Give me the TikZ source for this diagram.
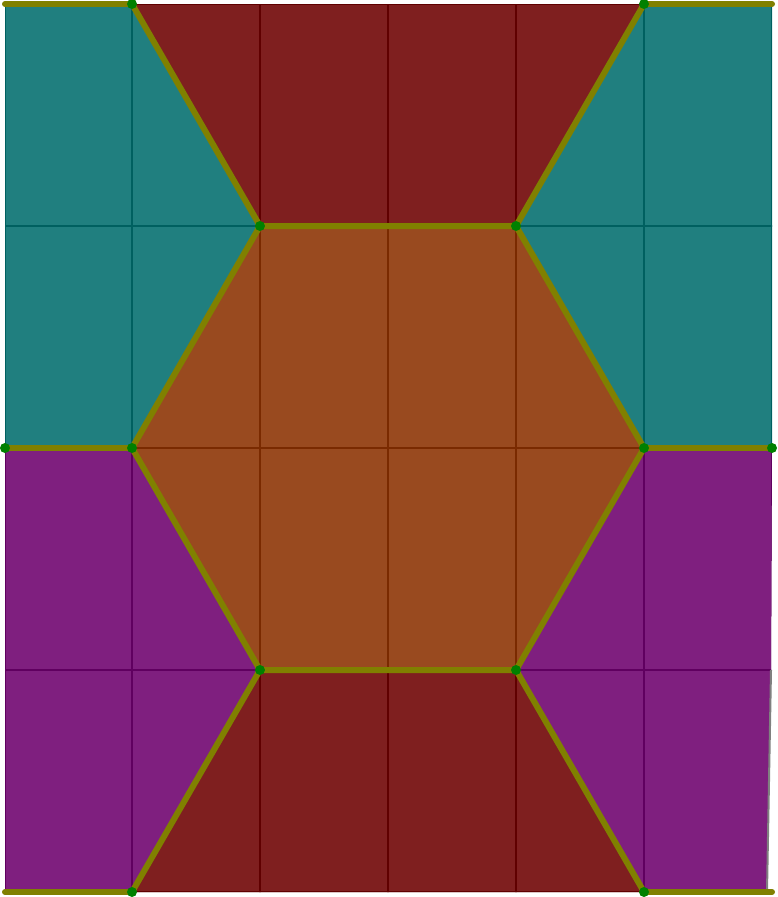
\documentclass[tikz,border=0pt]{standalone}
\begin{document}
\begin{tikzpicture}[x=1pt,y=-1pt,
  olive line/.style={draw={rgb,255:red,128;green,128;blue,0},line width=6pt,line cap=round},
  gridline/.style={line width=2pt},
  dot/.style={circle,fill={rgb,255:red,0;green,128;blue,0},inner sep=0pt,minimum size=10pt}]
\definecolor{tealc}{RGB}{32,127,127}
\definecolor{tealdark}{RGB}{0,96,96}
\definecolor{redc}{RGB}{127,31,31}
\definecolor{reddark}{RGB}{96,0,0}
\definecolor{orangec}{RGB}{153,74,31}
\definecolor{orangedark}{RGB}{122,42,0}
\definecolor{purplec}{RGB}{127,31,127}
\definecolor{purpledark}{RGB}{96,0,96}
\useasboundingbox (0,0) rectangle (777,897);
\fill[white] (0,0) rectangle (777,897);
% vertices
\coordinate (A) at (5,4);
\coordinate (B) at (132,4);
\coordinate (C) at (644,4);
\coordinate (D) at (772,4);
\coordinate (E) at (260,226);
\coordinate (F) at (516,226);
\coordinate (G) at (5,448);
\coordinate (H) at (132,448);
\coordinate (I) at (644,448);
\coordinate (J) at (772,448);
\coordinate (K) at (260,670);
\coordinate (L) at (516,670);
\coordinate (M) at (5,892);
\coordinate (N) at (132,892);
\coordinate (O) at (644,892);
\coordinate (P) at (767,892);
\coordinate (Q) at (771,670);
\newcommand{\meshgrid}[1]{%
  \foreach \xx in {5,132,260,388,516,644,772} \draw[gridline,#1] (\xx,0) -- (\xx,897);
  \foreach \yy in {4,226,448,670,892} \draw[gridline,#1] (0,\yy) -- (777,\yy);}
% teal top-left
\fill[tealc] (A) -- (B) -- (E) -- (H) -- (G) -- cycle;
\begin{scope}\clip (A) -- (B) -- (E) -- (H) -- (G) -- cycle; \meshgrid{tealdark}\end{scope}
% teal top-right
\fill[tealc] (C) -- (D) -- (J) -- (I) -- (F) -- cycle;
\begin{scope}\clip (C) -- (D) -- (J) -- (I) -- (F) -- cycle; \meshgrid{tealdark}\end{scope}
% red top
\fill[redc] (B) -- (C) -- (F) -- (E) -- cycle;
\begin{scope}\clip (B) -- (C) -- (F) -- (E) -- cycle; \meshgrid{reddark}\end{scope}
% orange hexagon
\fill[orangec] (E) -- (F) -- (I) -- (L) -- (K) -- (H) -- cycle;
\begin{scope}\clip (E) -- (F) -- (I) -- (L) -- (K) -- (H) -- cycle; \meshgrid{orangedark}\end{scope}
% red bottom
\fill[redc] (K) -- (L) -- (O) -- (N) -- cycle;
\begin{scope}\clip (K) -- (L) -- (O) -- (N) -- cycle; \meshgrid{reddark}\end{scope}
% purple bottom-left
\fill[purplec] (G) -- (H) -- (K) -- (N) -- (M) -- cycle;
\begin{scope}\clip (G) -- (H) -- (K) -- (N) -- (M) -- cycle; \meshgrid{purpledark}\end{scope}
% purple bottom-right
\fill[purplec] (I) -- (J) -- (Q) -- (P) -- (O) -- (L) -- cycle;
\begin{scope}\clip (I) -- (J) -- (Q) -- (P) -- (O) -- (L) -- cycle; \meshgrid{purpledark}\end{scope}
\draw[line width=2pt,gray] (Q) -- (P);
% olive boundaries
\draw[olive line] (A) -- (B) (C) -- (D);
\draw[olive line] (M) -- (N) (O) -- (772,892);
\draw[olive line] (G) -- (H) (I) -- (J);
\draw[olive line] (B) -- (E) -- (F) -- (C);
\draw[olive line] (N) -- (K) -- (L) -- (O);
\draw[olive line] (E) -- (H) -- (K);
\draw[olive line] (F) -- (I) -- (L);
% dots
\foreach \p in {B,C,E,F,G,H,I,J,K,L,N,O} \node[dot] (d\p) at (\p) {};
\end{tikzpicture}
\end{document}
